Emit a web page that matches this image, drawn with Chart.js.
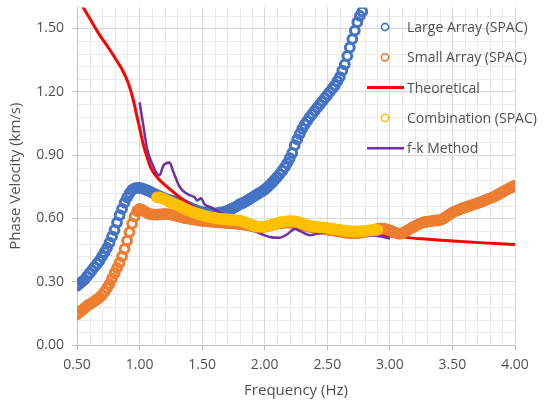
<!DOCTYPE html>
<html><head><meta charset="utf-8">
<script src="https://cdn.jsdelivr.net/npm/chart.js@4/dist/chart.umd.min.js"></script>
<style>html,body{margin:0;padding:0;background:#fff}</style>
</head><body>
<canvas id="c" width="544" height="405"></canvas>
<script>
// ---- DATA ----
const seriesNames = ["Large Array (SPAC)", "Small Array (SPAC)", "Theoretical", "Combination (SPAC)", "f-k Method"];
const xTicks = [0.50, 1.00, 1.50, 2.00, 2.50, 3.00, 3.50, 4.00];
const yTicks = [0.00, 0.30, 0.60, 0.90, 1.20, 1.50];

// frequency samples (Hz) shared by the SPAC series
const freq = [0.50,0.52,0.54,0.56,0.58,0.60,0.62,0.64,0.66,0.68,0.70,0.72,0.74,0.76,0.78,0.80,0.82,0.84,0.86,0.88,
0.90,0.92,0.94,0.96,0.98,1.00,1.02,1.04,1.06,1.08,1.10,1.12,1.14,1.16,1.18,1.20,1.22,1.24,1.26,1.28,
1.30,1.32,1.34,1.36,1.38,1.40,1.42,1.44,1.46,1.48,1.50,1.52,1.54,1.56,1.58,1.60,1.62,1.64,1.66,1.68,
1.70,1.72,1.74,1.76,1.78,1.80,1.82,1.84,1.86,1.88,1.90,1.92,1.94,1.96,1.98,2.00,2.02,2.04,2.06,2.08,
2.10,2.12,2.14,2.16,2.18,2.20,2.22,2.24,2.26,2.28,2.30,2.32,2.34,2.36,2.38,2.40,2.42,2.44,2.46,2.48,
2.50,2.52,2.54,2.56,2.58,2.60,2.62,2.64,2.66,2.68,2.70,2.72,2.74,2.76,2.78,2.80,2.82,2.84,2.86,2.88,
2.90,2.92,2.94,2.96,2.98,3.00,3.02,3.04,3.06,3.08,3.10,3.12,3.14,3.16,3.18,3.20,3.22,3.24,3.26,3.28,
3.30,3.32,3.34,3.36,3.38,3.40,3.42,3.44,3.46,3.48,3.50,3.52,3.54,3.56,3.58,3.60,3.62,3.64,3.66,3.68,
3.70,3.72,3.74,3.76,3.78,3.80,3.82,3.84,3.86,3.88,3.90,3.92,3.94,3.96,3.98,4.00];

// Large Array (SPAC): starts at freq[0] (0.50 Hz)
const largeStartIndex = 0;
const largeArray = [0.28,0.29,0.30,0.31,0.325,0.34,0.355,0.37,0.385,0.40,0.42,0.44,0.46,0.485,0.515,0.545,0.58,0.615,0.645,0.675,
0.70,0.72,0.735,0.742,0.745,0.745,0.742,0.738,0.733,0.728,0.722,0.716,0.71,0.705,0.70,0.695,0.69,0.687,0.684,0.68,
0.677,0.673,0.668,0.663,0.657,0.652,0.646,0.641,0.637,0.633,0.630,0.628,0.626,0.625,0.624,0.624,0.625,0.627,0.629,0.632,
0.636,0.641,0.646,0.652,0.659,0.667,0.672,0.677,0.684,0.692,0.700,0.707,0.714,0.722,0.728,0.737,0.747,0.758,0.77,0.783,
0.796,0.81,0.826,0.843,0.862,0.885,0.91,0.947,0.975,1.00,1.025,1.045,1.062,1.08,1.095,1.11,1.125,1.14,1.155,1.17,
1.185,1.20,1.215,1.23,1.25,1.27,1.30,1.33,1.37,1.41,1.45,1.49,1.53,1.56,1.58];

// Small Array (SPAC): starts at freq[0] (0.50 Hz)
const smallStartIndex = 0;
const smallArray = [0.145,0.155,0.165,0.175,0.185,0.193,0.20,0.208,0.216,0.225,0.237,0.252,0.27,0.29,0.315,0.34,0.365,0.39,0.42,0.455,
0.495,0.535,0.575,0.61,0.635,0.645,0.64,0.633,0.626,0.621,0.619,0.618,0.618,0.619,0.62,0.62,0.62,0.619,0.617,0.614,
0.611,0.608,0.605,0.602,0.60,0.598,0.596,0.594,0.592,0.59,0.588,0.587,0.586,0.585,0.584,0.583,0.582,0.581,0.58,0.579,
0.578,0.577,0.576,0.575,0.574,0.573,0.572,0.57,0.568,0.566,0.563,0.56,0.558,0.557,0.558,0.56,0.563,0.566,0.569,0.572,
0.575,0.577,0.578,0.579,0.58,0.58,0.58,0.579,0.577,0.574,0.57,0.566,0.562,0.559,0.557,0.555,0.554,0.553,0.551,0.549,
0.547,0.545,0.543,0.541,0.539,0.537,0.535,0.533,0.531,0.53,0.53,0.53,0.531,0.532,0.534,0.536,0.538,0.54,0.542,0.545,
0.55,0.552,0.552,0.55,0.547,0.543,0.538,0.533,0.529,0.527,0.53,0.536,0.543,0.55,0.557,0.563,0.569,0.575,0.58,0.583,
0.585,0.586,0.588,0.59,0.59,0.592,0.597,0.604,0.612,0.62,0.627,0.633,0.638,0.643,0.648,0.652,0.656,0.66,0.664,0.668,
0.672,0.676,0.681,0.686,0.69,0.695,0.70,0.705,0.712,0.718,0.725,0.732,0.738,0.744,0.75,0.755];

// Combination (SPAC): starts at freq[32] (1.14 Hz)
const comboStartIndex = 32;
const comboArray = [0.70,0.70,0.695,0.69,0.684,0.678,0.673,0.668,0.663,0.658,0.652,0.646,0.641,0.636,0.631,0.627,0.623,0.619,0.615,0.612,
0.609,0.606,0.604,0.602,0.600,0.598,0.597,0.596,0.595,0.594,0.593,0.592,0.591,0.589,0.586,0.582,0.578,0.573,0.568,0.564,
0.561,0.56,0.56,0.561,0.563,0.566,0.57,0.574,0.578,0.581,0.583,0.585,0.586,0.587,0.587,0.586,0.584,0.58,0.576,0.572,
0.568,0.565,0.563,0.561,0.56,0.558,0.557,0.556,0.555,0.553,0.551,0.549,0.547,0.545,0.543,0.541,0.54,0.539,0.538,0.538,
0.538,0.539,0.54,0.541,0.542,0.543,0.544,0.545,0.546];

// Theoretical curve
const theoFreq = [0.50,0.55,0.60,0.68,0.75,0.82,0.87,0.91,0.95,0.98,1.00,1.03,1.06,1.09,1.14,1.19,1.26,1.32,1.40,1.46,1.55,1.70,1.85,2.00,2.25,2.50,2.75,3.00,3.25,3.50,3.75,4.00];
const theoVel  = [1.65,1.60,1.55,1.47,1.41,1.345,1.295,1.24,1.16,1.08,1.03,0.95,0.89,0.84,0.795,0.765,0.73,0.70,0.665,0.645,0.625,0.60,0.585,0.575,0.557,0.543,0.53,0.517,0.503,0.493,0.484,0.476];

// f-k Method curve
const fkFreq = [1.00,1.03,1.06,1.10,1.14,1.16,1.19,1.24,1.27,1.32,1.37,1.40,1.44,1.46,1.49,1.52,1.58,1.65,1.75,1.85,1.94,2.04,2.12,2.18,2.24,2.30,2.36,2.44,2.55,2.70,2.85,2.92,3.00];
const fkVel  = [1.15,1.04,0.93,0.86,0.81,0.805,0.85,0.865,0.82,0.75,0.72,0.71,0.70,0.685,0.695,0.667,0.65,0.625,0.60,0.57,0.535,0.512,0.508,0.525,0.55,0.535,0.52,0.53,0.535,0.525,0.52,0.515,0.505];

// ---- BUILD ----
const toPts = (start, vals) => vals.map((v, i) => ({x: freq[start + i], y: v}));
const pairPts = (xs, ys) => xs.map((x, i) => ({x, y: ys[i]}));

const COLORS = ["#4472C4", "#ED7D31", "#FF0000", "#FFC000", "#7030A0"];
const FONT = "'Open Sans', 'Noto Sans', sans-serif";
const TXT = "#505050";

const markerDs = (label, color, data, order) => ({
  label, data, order, showLine: false,
  pointRadius: 4.4, pointBorderWidth: 3, pointStyle: 'circle',
  borderColor: color, backgroundColor: 'rgba(0,0,0,0)',
  pointBorderColor: color, pointBackgroundColor: 'rgba(0,0,0,0)',
  pointHoverRadius: 4.4
});
const lineDs = (label, color, data, order, w) => ({
  label, data, order, showLine: true, pointRadius: 0, borderColor: color,
  backgroundColor: color, borderWidth: w, cubicInterpolationMode: 'monotone'
});

const datasets = [
  markerDs(seriesNames[0], COLORS[0], toPts(largeStartIndex, largeArray), 5),
  markerDs(seriesNames[1], COLORS[1], toPts(smallStartIndex, smallArray), 3),
  lineDs(seriesNames[2], COLORS[2], pairPts(theoFreq, theoVel), 4, 3),
  markerDs(seriesNames[3], COLORS[3], toPts(comboStartIndex, comboArray), 1),
  lineDs(seriesNames[4], COLORS[4], pairPts(fkFreq, fkVel), 2, 2.5)
];

const minorGrid = {
  id: 'minorGrid',
  beforeDraw(chart) {
    const {ctx, chartArea: a, scales: {x, y}} = chart;
    ctx.save();
    ctx.strokeStyle = '#eaeaea';
    ctx.lineWidth = 1;
    ctx.beginPath();
    for (let i = 1; i < 35; i++) {
      if (i % 5 === 0) continue;
      const px = Math.round(x.getPixelForValue(0.5 + i * 0.1)) + 0.5;
      ctx.moveTo(px, a.top); ctx.lineTo(px, a.bottom);
    }
    for (let i = 1; i <= 26; i++) {
      if (i % 5 === 0) continue;
      const v = i * 0.06;
      if (v > 1.6) break;
      const py = Math.round(y.getPixelForValue(v)) + 0.5;
      ctx.moveTo(a.left, py); ctx.lineTo(a.right, py);
    }
    ctx.stroke();
    ctx.restore();
  }
};

const legendBox = {
  id: 'legendBox',
  afterDraw(chart) {
    const ctx = chart.ctx;
    const x0 = 385, y0 = 27, dy = 30.3;
    ctx.save();
    ctx.font = "14px " + FONT;
    ctx.textBaseline = 'middle';
    ctx.textAlign = 'left';
    chart.data.datasets.forEach((ds, i) => {
      const cy = y0 + i * dy;
      ctx.strokeStyle = ds.borderColor;
      if (ds.showLine) {
        ctx.lineWidth = ds.borderWidth;
        ctx.beginPath(); ctx.moveTo(367, cy); ctx.lineTo(404, cy); ctx.stroke();
      } else {
        ctx.lineWidth = 1.6;
        ctx.beginPath(); ctx.arc(x0, cy, 3.6, 0, Math.PI * 2); ctx.stroke();
      }
      ctx.fillStyle = TXT;
      ctx.fillText(ds.label, 407, cy + 1);
    });
    ctx.restore();
  }
};

new Chart(document.getElementById('c'), {
  type: 'scatter',
  data: { datasets },
  plugins: [minorGrid, legendBox],
  options: {
    responsive: false, animation: false, devicePixelRatio: 1,
    layout: { padding: { left: 0, right: 29, top: 5, bottom: 0 } },
    plugins: { legend: { display: false }, tooltip: { enabled: false } },
    scales: {
      x: {
        type: 'linear', min: xTicks[0], max: xTicks[xTicks.length - 1],
        afterBuildTicks: s => { s.ticks = xTicks.map(v => ({value: v})); },
        afterFit: s => { s.height = 60; s.paddingLeft = 0; s.paddingRight = 0; },
        ticks: { color: TXT, font: { family: FONT, size: 14 }, padding: 7, callback: v => Number(v).toFixed(2), maxRotation: 0, autoSkip: false },
        grid: { color: '#d9d9d9', tickLength: 5, tickColor: '#bfbfbf' },
        border: { color: '#bfbfbf' },
        title: { display: true, text: 'Frequency (Hz)', color: TXT, font: { family: FONT, size: 15 }, padding: { top: 0, bottom: 5 } }
      },
      y: {
        type: 'linear', min: 0, max: 1.6,
        afterBuildTicks: s => { s.ticks = yTicks.map(v => ({value: v})); },
        afterFit: s => { s.width = 77; s.paddingTop = 0; s.paddingBottom = 0; },
        ticks: { color: TXT, font: { family: FONT, size: 14 }, padding: 8, callback: v => Number(v).toFixed(2) },
        grid: { color: '#d9d9d9', tickLength: 5, tickColor: '#bfbfbf' },
        border: { color: '#bfbfbf' },
        title: { display: true, text: 'Phase Velocity (km/s)', color: TXT, font: { family: FONT, size: 15 }, padding: { top: 7, bottom: 0 } }
      }
    }
  }
});
</script>
</body></html>
